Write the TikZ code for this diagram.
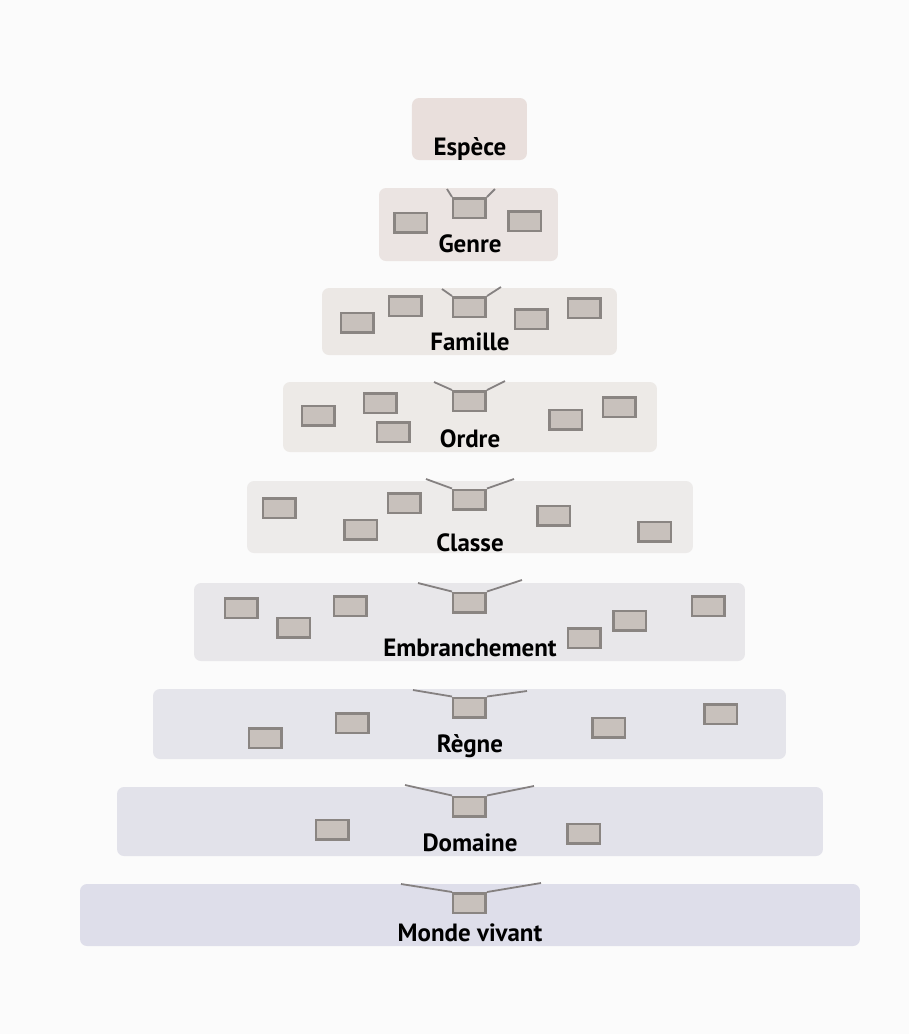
\documentclass[tikz,border=0pt]{standalone}
\usepackage{fontspec}
\setmainfont{PT Sans}
\usepackage{tikz}
\usetikzlibrary{positioning, calc}
\definecolor{pagebg}{HTML}{FBFBFB}
\definecolor{boxfill}{HTML}{C8C1BC}
\definecolor{boxline}{HTML}{8A8582}
\definecolor{funnelline}{HTML}{858181}
\definecolor{rankA}{HTML}{E9DFDC}
\definecolor{rankB}{HTML}{EBE4E2}
\definecolor{rankC}{HTML}{ECE8E5}
\definecolor{rankD}{HTML}{EDEAE7}
\definecolor{rankE}{HTML}{EDEBEA}
\definecolor{rankF}{HTML}{E8E7EA}
\definecolor{rankG}{HTML}{E5E5EB}
\definecolor{rankH}{HTML}{E2E2EA}
\definecolor{rankI}{HTML}{DEDEEA}
\tikzset{
x=0.1mm, y=-0.1mm,
band/.style={%
    rectangle,
    rounded corners=0.7mm,
    draw=none,
    inner sep=0pt,
},
rank/.style={%
    anchor=base,
    inner sep=0pt,
    font=\fontsize{7.1}{9}\selectfont\bfseries,
    text=black,
},
taxon/.style={%
    rectangle,
    minimum width=3.25mm,
    minimum height=1.95mm,
    inner sep=0pt,
    fill=boxfill,
    draw=boxline,
    line width=0.25mm,
},
funnel/.style={draw=funnelline, line width=0.18mm},
}

\begin{document}
\begin{tikzpicture}
	\fill[pagebg] (0,0) rectangle (909,1034);
	\useasboundingbox (0,0) rectangle (909,1034);

	% bands, top to bottom
	\node[band, fill=rankA, minimum width=11.5mm, minimum height=6.2mm] at (469.5,129) (espece) {};
	\node[band, fill=rankB, minimum width=17.9mm, minimum height=7.3mm] at (468.5,224.5) (genre) {};
	\node[band, fill=rankC, minimum width=29.5mm, minimum height=6.7mm] at (469.5,321.5) (famille) {};
	\node[band, fill=rankD, minimum width=37.4mm, minimum height=7.0mm] at (470,417) (ordre) {};
	\node[band, fill=rankE, minimum width=44.6mm, minimum height=7.2mm] at (470,517) (classe) {};
	\node[band, fill=rankF, minimum width=55.1mm, minimum height=7.8mm] at (469.5,622) (embr) {};
	\node[band, fill=rankG, minimum width=63.3mm, minimum height=7.0mm] at (469.5,724) (regne) {};
	\node[band, fill=rankH, minimum width=70.6mm, minimum height=6.9mm] at (470,821.5) (domaine) {};
	\node[band, fill=rankI, minimum width=78.0mm, minimum height=6.2mm] at (470,915) (monde) {};

	% labels
	\node[rank] at (470,155) (lespece) {Espèce};
	\node[rank] at (470,252) (lgenre) {Genre};
	\node[rank] at (470,350) (lfamille) {Famille};
	\node[rank] at (470,447) (lordre) {Ordre};
	\node[rank] at (470,551) (lclasse) {Classe};
	\node[rank] at (470,656) (lembr) {Embranchement};
	\node[rank] at (470,752) (lregne) {Règne};
	\node[rank] at (470,851) (ldomaine) {Domaine};
	\node[rank] at (470,941) (lmonde) {Monde vivant};

	% centre boxes
	\node[taxon] at (469.5,208) (gc) {};
	\node[taxon] at (469.5,307) (fc) {};
	\node[taxon] at (469.5,401) (oc) {};
	\node[taxon] at (469.5,499.5) (cc) {};
	\node[taxon] at (469.5,602.5) (ec) {};
	\node[taxon] at (469.5,707.5) (rc) {};
	\node[taxon] at (469.5,806.5) (dc) {};
	\node[taxon] at (469.5,903) (mc) {};

	% funnel ends
	\coordinate (gL) at (447,189);  \coordinate (gR) at (495,189);
	\coordinate (fL) at (442,289);  \coordinate (fR) at (501,287);
	\coordinate (oL) at (434,382);  \coordinate (oR) at (505,381);
	\coordinate (cL) at (426,479);  \coordinate (cR) at (514,479);
	\coordinate (eL) at (418,583);  \coordinate (eR) at (522,580);
	\coordinate (rL) at (413,690);  \coordinate (rR) at (527,691);
	\coordinate (dL) at (405,785);  \coordinate (dR) at (534,786);
	\coordinate (mL) at (401,884);  \coordinate (mR) at (541,883);

	\foreach \c in {g,f,o,c,e,r,d,m} {
		\draw[funnel] (\c c.north west) -- (\c L);
		\draw[funnel] (\c c.north east) -- (\c R);
	}

	% other boxes
	\node[taxon] at (411,222.5) (g1) {};
	\node[taxon] at (525,221) (g2) {};

	\node[taxon] at (357.5,322.5) (f1) {};
	\node[taxon] at (405.5,306) (f2) {};
	\node[taxon] at (531.5,319) (f3) {};
	\node[taxon] at (584.5,308) (f4) {};

	\node[taxon] at (318.5,415.5) (o1) {};
	\node[taxon] at (380.5,403) (o2) {};
	\node[taxon] at (393.5,432) (o3) {};
	\node[taxon] at (566,419.5) (o4) {};
	\node[taxon] at (619.5,407) (o5) {};

	\node[taxon] at (279.5,508) (c1) {};
	\node[taxon] at (361,529.5) (c2) {};
	\node[taxon] at (404.5,503) (c3) {};
	\node[taxon] at (554,515.5) (c4) {};
	\node[taxon] at (655,531.5) (c5) {};

	\node[taxon] at (241.5,608) (e1) {};
	\node[taxon] at (294,627.5) (e2) {};
	\node[taxon] at (350.5,606) (e3) {};
	\node[taxon] at (584.5,638) (e4) {};
	\node[taxon] at (630,620.5) (e5) {};
	\node[taxon] at (708.5,606) (e6) {};

	\node[taxon] at (265.5,738) (r1) {};
	\node[taxon] at (352.5,723) (r2) {};
	\node[taxon] at (609,727.5) (r3) {};
	\node[taxon] at (721,714) (r4) {};

	\node[taxon] at (332.5,829.5) (d1) {};
	\node[taxon] at (584,833.5) (d2) {};
\end{tikzpicture}
\end{document}
